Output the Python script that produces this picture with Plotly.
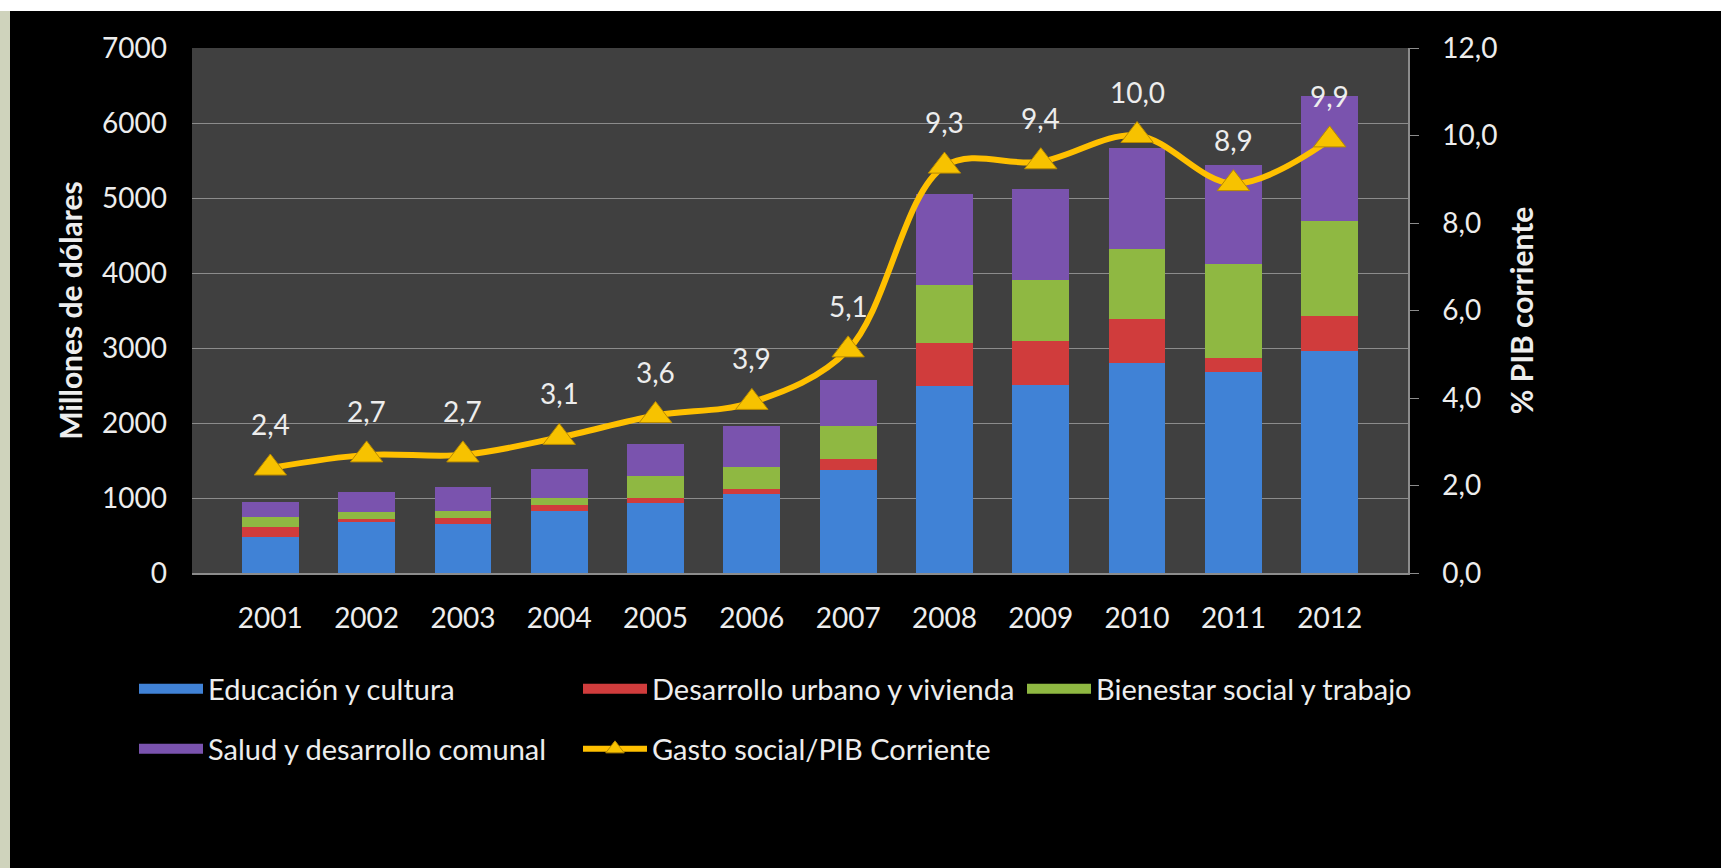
import plotly.graph_objects as go

# ---------------- data ----------------
years = ["2001", "2002", "2003", "2004", "2005", "2006",
         "2007", "2008", "2009", "2010", "2011", "2012"]
educacion = [480, 680, 660, 830, 930, 1060, 1375, 2490, 2510, 2800, 2680, 2960]
desarrollo = [130, 35, 70, 80, 75, 65, 150, 580, 585, 585, 190, 470]
bienestar = [140, 100, 100, 95, 285, 290, 435, 770, 810, 940, 1250, 1260]
salud = [200, 270, 320, 380, 435, 540, 620, 1215, 1215, 1345, 1315, 1670]
gasto_pib = [2.4, 2.7, 2.7, 3.1, 3.6, 3.9, 5.1, 9.3, 9.4, 10.0, 8.9, 9.9]

bar_names = ["Educación y cultura", "Desarrollo urbano y vivienda",
             "Bienestar social y trabajo", "Salud y desarrollo comunal"]
line_name = "Gasto social/PIB Corriente"
left_ticks = [0, 1000, 2000, 3000, 4000, 5000, 6000, 7000]
right_ticks = [0, 2, 4, 6, 8, 10, 12]

# ---------------- style ----------------
W, H = 1721, 868
L, R, T, B = 192, W - 1408, 48, H - 573
FONT = "Lato"
TXT = "#EDEDED"
FS = 28
colors = ["#4082D6", "#D03C3C", "#8FB842", "#7A53AE"]
legend_of = ["legend", "legend", "legend", "legend2"]

fig = go.Figure()

for name, vals, col in zip(bar_names, [educacion, desarrollo, bienestar, salud], colors):
    fig.add_trace(go.Bar(
        x=years, y=vals, name=name, marker=dict(color=col, line=dict(width=0)),
        showlegend=False, yaxis="y", hoverinfo="y+name"))

# legend entries (wide rectangles like the reference), no visible marks
for name, col, lg in zip(bar_names, colors, legend_of):
    fig.add_trace(go.Scatter(
        x=years, y=[None] * len(years), name=name, mode="lines",
        line=dict(color=col, width=20), legend=lg, hoverinfo="skip"))

fig.add_trace(go.Scatter(
    x=years, y=gasto_pib, name=line_name, yaxis="y2", mode="lines+markers",
    line=dict(color="#FFC000", width=6, shape="spline", smoothing=1.0),
    marker=dict(symbol="triangle-up", size=28, color="#F7C200",
                line=dict(color="#B88A00", width=1)),
    legend="legend2"))

# data labels: x given as the category index (numeric-looking labels would be
# read as positions by annotations)
for i, v in enumerate(gasto_pib):
    fig.add_annotation(x=i, y=v, xref="x", yref="y2",
                       text=f"{v:.1f}".replace(".", ","), showarrow=False,
                       yshift=44, font=dict(family=FONT, size=FS, color=TXT))

def px_x(p):
    return (p - L) / (W - L - R)

def px_y(p):
    return (H - B - p) / (H - T - B)

# page decoration: beige strip at left, white band at top
fig.add_shape(type="rect", xref="paper", yref="paper", x0=px_x(0), x1=px_x(10),
              y0=px_y(H), y1=px_y(0), fillcolor="#CFD3BC", line=dict(width=0), layer="below")
fig.add_shape(type="rect", xref="paper", yref="paper", x0=px_x(0), x1=px_x(W),
              y0=px_y(11), y1=px_y(0), fillcolor="#FFFFFF", line=dict(width=0), layer="below")

fig.update_layout(
    width=W, height=H,
    margin=dict(l=L, r=R, t=T, b=B, autoexpand=False),
    paper_bgcolor="#000000", plot_bgcolor="#404040",
    separators=",.",
    barmode="stack", bargap=0.41,
    font=dict(family=FONT, size=FS, color=TXT),
    xaxis=dict(type="category", showgrid=False, showline=True, linecolor="#8C8C8C",
               linewidth=1.5, ticks="", ticklabelstandoff=20,
               tickfont=dict(size=FS, color=TXT)),
    yaxis=dict(range=[0, 7000], tickvals=left_ticks, showgrid=True, gridcolor="#8C8C8C",
               gridwidth=1.2, zeroline=False, showline=False, ticks="",
               ticklabelstandoff=24, tickfont=dict(size=FS, color=TXT),
               title=dict(text="<b>Millones de dólares</b>", standoff=10,
                          font=dict(size=30, color=TXT))),
    yaxis2=dict(range=[0, 12], tickvals=right_ticks, tickformat=".1f", overlaying="y",
                side="right", showgrid=False, zeroline=False, showline=True,
                linecolor="#8C8C8C", linewidth=1.5, ticks="outside", ticklen=9,
                tickcolor="#8C8C8C", ticklabelstandoff=18,
                tickfont=dict(size=FS, color=TXT),
                title=dict(text="<b>% PIB corriente</b>", standoff=16,
                           font=dict(size=30, color=TXT))),
    legend=dict(orientation="h", x=px_x(134), xanchor="left", y=px_y(689), yanchor="middle",
                entrywidth=365, entrywidthmode="pixels", itemwidth=64, traceorder="normal",
                bgcolor="rgba(0,0,0,0)", font=dict(size=29, color=TXT)),
    legend2=dict(orientation="h", x=px_x(134), xanchor="left", y=px_y(749), yanchor="middle",
                 entrywidth=365, entrywidthmode="pixels", itemwidth=64, traceorder="normal",
                 bgcolor="rgba(0,0,0,0)", font=dict(size=29, color=TXT)),
)

fig.write_html("out.html", config={"displayModeBar": False},
               post_script="document.body.style.margin='0px';"
                           "document.body.style.overflow='hidden';")
